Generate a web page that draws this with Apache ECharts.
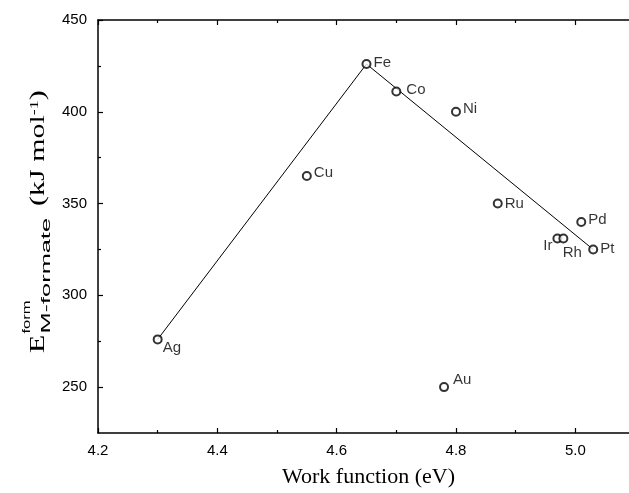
<!DOCTYPE html>
<html>
<head>
<meta charset="utf-8">
<script src="https://cdn.jsdelivr.net/npm/echarts/dist/echarts.min.js"></script>
<style>
  html, body { margin: 0; padding: 0; background: #fff; }
  #chart { width: 629px; height: 493px; }
</style>
</head>
<body>
<div id="chart"></div>
<script>
// metals, work function (eV) and formation energy of the M-formate (kJ/mol)
const metals = ['Ag', 'Cu', 'Fe', 'Co', 'Ni', 'Au', 'Ru', 'Ir', 'Rh', 'Pd', 'Pt'];
const workFunction = [4.30, 4.55, 4.65, 4.70, 4.80, 4.78, 4.87, 4.97, 4.98, 5.01, 5.03];
const formEnergy = [276, 365, 426, 411, 400, 250, 350, 331, 331, 340, 325];

// the volcano line Ag -> Fe -> Pt
const trendX = [4.30, 4.65, 5.03];
const trendY = [276, 426, 325];

// tick labels
const xMajor = [4.2, 4.4, 4.6, 4.8, 5.0];
const xMinor = [4.3, 4.5, 4.7, 4.9];
const yMajor = [250, 300, 350, 400, 450];
const yMinor = [275, 325, 375, 425];

const X_MIN = 4.2, X_MAX = 5.09;
const Y_MIN = 225, Y_MAX = 450;

const sans = 'Liberation Sans, Arial, sans-serif';
const serif = 'Liberation Serif, Times New Roman, serif';

// where each label sits next to its point
const labelPos = {
    Ag: { position: 'right', offset: [-2, 8] },
    Cu: { position: 'right', offset: [0, -3] },
    Fe: { position: 'right', offset: [0, -1] },
    Co: { position: 'right', offset: [3, -2] },
    Ni: { position: 'right', offset: [0, -3] },
    Au: { position: 'right', offset: [2, -7] },
    Ru: { position: 'right', offset: [0, 0] },
    Ir: { position: 'left', offset: [2, 7] },
    Rh: { position: 'bottom', offset: [9, 0] },
    Pd: { position: 'right', offset: [0, -2] },
    Pt: { position: 'right', offset: [0, -1] },
};

function xAxis(position, ticks, len, withLabels) {
    return {
        type: 'value',
        position: position,
        min: X_MIN,
        max: X_MAX,
        name: withLabels ? 'Work function (eV)' : '',
        nameLocation: 'middle',
        nameGap: 33,
        nameTextStyle: { fontFamily: serif, fontSize: 22, color: '#000', padding: [0, 0, 0, 10] },
        axisLine: { show: len === 5, lineStyle: { color: '#000', width: 1.5 } },
        axisTick: { show: true, inside: true, length: len, customValues: ticks,
            lineStyle: { color: '#000', width: 1.2 } },
        axisLabel: { show: withLabels, customValues: ticks, margin: 10,
            fontFamily: sans, fontSize: 15, color: '#000',
            formatter: (v) => v.toFixed(1) },
        splitLine: { show: false },
    };
}

function yAxis(ticks, len, withLabels) {
    return {
        type: 'value',
        position: 'left',
        min: Y_MIN,
        max: Y_MAX,
        axisLine: { show: len === 5, lineStyle: { color: '#000', width: 1.5 } },
        axisTick: { show: true, inside: true, length: len, customValues: ticks,
            lineStyle: { color: '#000', width: 1.2 } },
        axisLabel: { show: withLabels, customValues: ticks, margin: 11,
            fontFamily: sans, fontSize: 15, color: '#000' },
        splitLine: { show: false },
    };
}

const points = metals.map((m, i) => ({
    name: m,
    value: [workFunction[i], formEnergy[i]],
    label: Object.assign({ show: true, formatter: '{b}', distance: 2,
        fontFamily: sans, fontSize: 15, color: '#000' }, labelPos[m]),
}));

const chart = echarts.init(document.getElementById('chart'));
chart.setOption({
    animation: false,
    grid: { left: 98, right: 0, top: 20, bottom: 59 },
    xAxis: [
        xAxis('bottom', xMajor, 5, true),
        xAxis('bottom', xMinor, 3, false),
        xAxis('top', xMajor, 5, false),
        xAxis('top', xMinor, 3, false),
    ],
    yAxis: [
        yAxis(yMajor, 5, true),
        yAxis(yMinor, 3, false),
    ],
    series: [
        {
            type: 'line',
            data: trendX.map((x, i) => [x, trendY[i]]),
            showSymbol: false,
            lineStyle: { color: '#000', width: 1 },
            z: 2,
        },
        {
            type: 'scatter',
            data: points,
            symbol: 'emptyCircle',
            symbolSize: 8,
            itemStyle: { color: '#000', borderColor: '#000', borderWidth: 1 },
            z: 3,
        },
    ],
    graphic: [{
        type: 'group',
        x: 39,
        y: 353,
        rotation: Math.PI / 2,
        scaleX: 1.5,
        children: [
            { type: 'text', x: 0, y: 0,
              style: { text: 'E', font: '20px ' + serif, fill: '#000',
                       verticalAlign: 'middle', align: 'left' } },
            { type: 'text', x: 13, y: -12,
              style: { text: 'form', font: '11px ' + sans, fill: '#000',
                       verticalAlign: 'middle', align: 'left' } },
            { type: 'text', x: 13, y: 7, scaleX: 1.3,
              style: { text: 'M-formate', font: '13px ' + sans, fill: '#000',
                       verticalAlign: 'middle', align: 'left' } },
            { type: 'text', x: 98, y: 0,
              style: {
                  text: '(kJ mol{s|-1})',
                  font: '20px ' + serif, fill: '#000',
                  verticalAlign: 'middle', align: 'left',
                  rich: { s: { fontSize: 12, fontFamily: serif, verticalAlign: 'top', padding: [0, 0, 8, 0] } },
              } },
        ],
    }],
});
</script>
</body>
</html>
